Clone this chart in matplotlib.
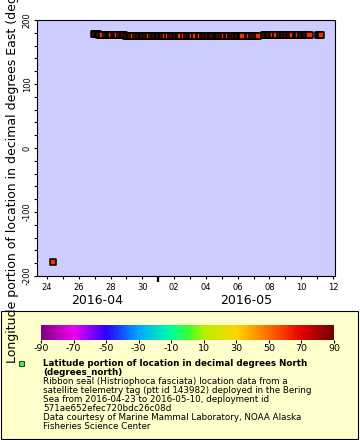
import matplotlib
matplotlib.use("Agg")
import matplotlib.pyplot as plt
import matplotlib.dates as mdates
import numpy as np
from datetime import datetime
from matplotlib.colors import LinearSegmentedColormap, Normalize
from matplotlib.cm import ScalarMappable
from matplotlib.patches import Rectangle

plt.rcParams['font.family'] = ['DejaVu Sans']
plt.rcParams['axes.unicode_minus'] = False

# decimal day of April 2016 (so 32.5 = May 2, 12:00), lon (deg E), lat (deg N)
day_iso = [24.38]
lon_iso = [-178.0]
lat_iso = [59.9]

day_a = [26.95, 27.04, 27.13, 27.20]
lon_a = [178.7, 178.5, 178.6, 178.6]
lat_a = [59.5, 59.6, 59.5, 59.6]

day_b = [27.30, 27.39, 27.48, 27.74, 27.83, 27.92, 28.00, 28.04,
         28.20, 28.29, 28.36, 28.41, 28.61, 28.70, 28.78, 28.83]
lon_b = [176.7, 176.5, 176.6, 176.6, 176.5, 176.7, 176.6, 176.6,
         176.5, 176.7, 176.6, 176.6, 176.5, 176.6, 176.7, 176.6]
lat_b = [59.6, 59.7, 59.6, 59.7, 59.8, 59.7, 59.6, 59.7,
         59.8, 59.7, 59.8, 59.7, 59.8, 59.9, 59.8, 59.8]

day_c = [28.96, 29.05, 29.14, 29.23, 29.32, 29.41,
         29.63, 29.72, 29.81, 29.90, 29.99, 30.08, 30.17, 30.26, 30.35, 30.43,
         30.63, 30.72, 30.81, 30.90, 30.99, 31.08, 31.17, 31.26, 31.34, 31.42,
         31.61, 31.80,
         31.96, 32.05, 32.14, 32.23, 32.32, 32.41,
         32.62, 32.84, 32.93, 33.02, 33.08, 33.14,
         33.30, 33.35,
         33.57, 33.64,
         33.80, 33.89, 33.98, 34.07, 34.16, 34.25, 34.33, 34.38,
         34.54, 34.63, 34.72, 34.78, 34.82,
         34.98, 35.06, 35.15,
         35.31, 35.37, 35.43,
         35.59, 35.68, 35.77, 35.86, 35.95, 36.04, 36.13, 36.21, 36.29,
         36.64, 36.70, 36.75, 36.90, 37.06, 37.15, 37.30]
lon_c = [175.2, 175.1, 175.3, 175.2, 175.0, 175.2,
         175.3, 175.1, 175.2, 175.2, 175.4, 175.1, 175.2, 175.3, 175.0, 175.2,
         175.1, 175.3, 175.2, 175.2, 175.1, 175.3, 175.2, 175.0, 175.2, 175.3,
         175.2, 175.1,
         175.2, 175.3, 175.1, 175.2, 175.2, 175.0,
         175.3, 175.2, 175.1, 175.2, 175.3, 175.2,
         175.1, 175.2,
         175.3, 175.2,
         175.2, 175.1, 175.3, 175.2, 175.2, 175.0, 175.2, 175.3,
         175.2, 175.1, 175.2, 175.3, 175.2,
         175.1, 175.2, 175.2,
         175.3, 175.2, 175.1,
         175.2, 175.2, 175.3, 175.1, 175.2, 175.0, 175.2, 175.3, 175.2,
         175.2, 175.1, 175.3, 175.2, 175.2, 175.1, 175.2]
lat_c = [59.8, 59.9, 60.0, 60.1, 59.9, 60.0,
         60.2, 60.1, 60.0, 59.9, 60.1, 60.2, 60.0, 59.9, 60.1, 60.0,
         60.1, 60.2, 60.3, 60.1, 60.2, 60.0, 60.1, 60.2, 60.3, 60.2,
         60.2, 60.1,
         60.3, 60.2, 60.4, 60.3, 60.2, 60.3,
         60.4, 60.3, 60.2, 60.4, 60.3, 60.4,
         60.3, 60.4,
         60.5, 60.4,
         60.4, 60.5, 60.3, 60.4, 60.5, 60.4, 60.6, 60.5,
         60.4, 60.5, 60.6, 60.5, 60.4,
         60.5, 60.6, 60.5,
         60.6, 60.5, 60.6,
         60.6, 60.7, 60.6, 60.5, 60.6, 60.7, 60.6, 60.7, 60.6,
         60.7, 60.6, 60.7, 60.8, 60.7, 60.6, 60.7]

day_d = [37.65, 37.74, 37.83, 37.92, 38.01, 38.10, 38.18, 38.24, 38.41, 38.44,
         38.68, 38.77, 38.86, 38.95, 39.04, 39.13, 39.21, 39.29, 39.44, 39.66,
         39.74, 39.81, 39.98, 40.07, 40.16, 40.25, 40.34, 40.43, 40.52]
lon_d = [176.7, 176.6, 176.5, 176.6, 176.7, 176.6, 176.6, 176.5, 176.6, 176.7,
         176.6, 176.5, 176.6, 176.7, 176.6, 176.6, 176.5, 176.6, 176.7, 176.6,
         176.6, 176.5, 176.6, 176.7, 176.6, 176.6, 176.5, 176.6, 176.7]
lat_d = [60.8, 60.7, 60.8, 60.9, 60.8, 60.7, 60.8, 60.9, 60.8, 60.9,
         60.8, 60.9, 61.0, 60.9, 60.8, 60.9, 61.0, 60.9, 61.0, 60.9,
         61.0, 61.1, 61.0, 60.9, 61.0, 61.1, 61.0, 61.1, 61.0]

day_e = [41.05, 41.12, 41.19, 41.25]
lon_e = [176.6, 176.7, 176.6, 176.6]
lat_e = [60.9, 60.8, 60.9, 60.9]

cbar_ticks = [-90, -70, -50, -30, -10, 10, 30, 50, 70, 90]
cmap_stops = [-90, -70, -50, -30, -10, 0, 10, 30, 50, 70, 90]
cmap_colors = ['#7f007f', '#f000f0', '#2a00ff', '#00a8ff', '#00ffa0', '#33ff33',
               '#b4f000', '#ffd700', '#ff6a00', '#e60000', '#6e0000']

info_lines = [
    ("Latitude portion of location in decimal degrees North", 'bold'),
    ("(degrees_north)", 'bold'),
    ("Ribbon seal (Histriophoca fasciata) location data from a", 'normal'),
    ("satellite telemetry tag (ptt id 143982) deployed in the Bering", 'normal'),
    ("Sea from 2016-04-23 to 2016-05-10, deployment id", 'normal'),
    ("571ae652efec720bdc26c08d", 'normal'),
    ("Data courtesy of Marine Mammal Laboratory, NOAA Alaska", 'normal'),
    ("Fisheries Science Center", 'normal'),
]

W, H = 360, 440
fig = plt.figure(figsize=(W / 100, H / 100), dpi=100)

base = mdates.date2num(datetime(2016, 4, 1)) - 1
days = np.array(day_iso + day_a + day_b + day_c + day_d + day_e) + base
lons = np.array(lon_iso + lon_a + lon_b + lon_c + lon_d + lon_e)
lats = np.array(lat_iso + lat_a + lat_b + lat_c + lat_d + lat_e)

pos = [(s + 90) / 180 for s in cmap_stops]
cmap = LinearSegmentedColormap.from_list('rainbow_erddap', list(zip(pos, cmap_colors)))
norm = Normalize(-90, 90)

ax = fig.add_axes([37 / W, 1 - 276 / H, 298 / W, 256 / H])
ax.set_facecolor('#ccccff')
ax.scatter(days, lons, c=lats, cmap=cmap, norm=norm, marker='s', s=20,
           edgecolors='black', linewidths=1.1, zorder=3)

ax.set_xlim(base + 23.37, base + 42.13)
ax.set_ylim(-200, 200)
ax.set_yticks([-200, -100, 0, 100, 200])
ax.yaxis.set_minor_locator(matplotlib.ticker.MultipleLocator(20))

ax.xaxis.set_major_locator(mdates.DayLocator())
ax.xaxis.set_major_formatter(matplotlib.ticker.FuncFormatter(
    lambda v, p: mdates.num2date(v).strftime('%d') if mdates.num2date(v).day % 2 == 0 else ''))
may1 = mdates.date2num(datetime(2016, 5, 1))
ax.xaxis.set_minor_locator(matplotlib.ticker.FixedLocator([may1]))
ax.xaxis.remove_overlapping_locs = False

ax.tick_params(axis='x', which='major', length=2.2, width=0.8, labelsize=6, pad=2.5)
ax.tick_params(axis='x', which='minor', length=4.5, width=1.6)
ax.tick_params(axis='y', which='both', length=2.2, width=0.8, labelsize=6, pad=1.5)
plt.setp(ax.get_yticklabels(), rotation=90, va='center')
for sp in ax.spines.values():
    sp.set_linewidth(0.8)

xmin, xmax = ax.get_xlim()
ax.text((xmin + may1) / 2, -0.094, "2016-04", transform=ax.get_xaxis_transform(),
        ha='center', va='center', fontsize=9)
ax.text((may1 + xmax) / 2, -0.094, "2016-05", transform=ax.get_xaxis_transform(),
        ha='center', va='center', fontsize=9)

fig.text(13 / W, 1 - 363 / H,
         "Longitude portion of location in decimal degrees East (degrees_east)",
         rotation=90, ha='center', va='bottom', fontsize=9)

# legend box
fig.add_artist(Rectangle((1 / W, 1 - 439 / H), 357 / W, 128 / H, transform=fig.transFigure,
                         facecolor='#ffffcc', edgecolor='black', linewidth=0.8, zorder=-1))

cax = fig.add_axes([41 / W, 1 - 340 / H, 293 / W, 15 / H])
cb = fig.colorbar(ScalarMappable(norm=norm, cmap=cmap), cax=cax, orientation='horizontal',
                  ticks=cbar_ticks)
cb.outline.set_visible(False)
cax.tick_params(length=2, width=0.8, labelsize=6.8, pad=1)

fig.add_artist(Rectangle((19 / W, 1 - 366 / H), 5 / W, 5 / H, transform=fig.transFigure,
                         facecolor='#44ee44', edgecolor='#224422', linewidth=0.7))

for i, (txt, wt) in enumerate(info_lines):
    fig.text(43 / W, 1 - (363.3 + 9.05 * i) / H, txt, fontsize=6.3, fontweight=wt,
             ha='left', va='center')

fig.savefig('out.png', dpi=100)
